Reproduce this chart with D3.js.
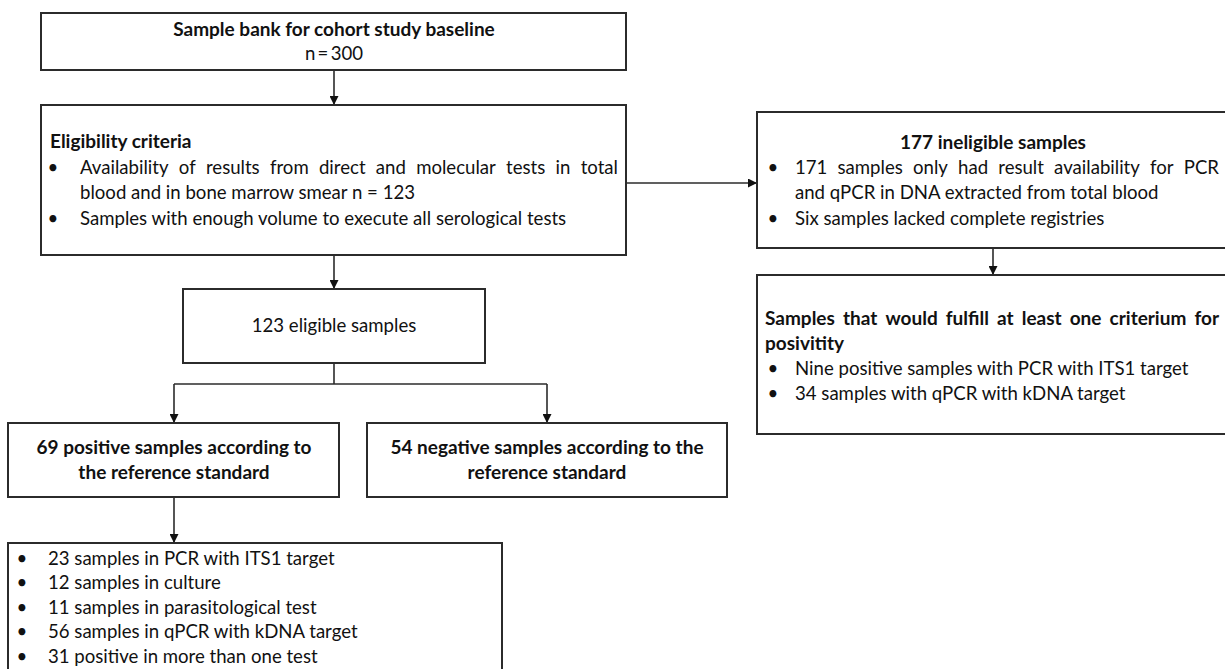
<!DOCTYPE html>
<html><head><meta charset="utf-8">
<script src="https://cdn.jsdelivr.net/npm/d3@7"></script>
<style>
html,body{margin:0;padding:0;background:#fff;overflow:hidden}
svg{display:block}
text{font-family:Lato,"Open Sans",sans-serif;fill:#111;font-size:18.6px}
text.b{font-size:19px;font-weight:700}
</style></head><body>
<svg id="chart" width="1225" height="669"></svg>
<script>
// ---- text content ----
const baselineTitle = "Sample bank for cohort study baseline";
const baselineCount = "n\u2009=\u2009300";
const eligibilityTitle = "Eligibility criteria";
const eligibilityItems = [
  ["Availability of results from direct and molecular tests in total", "blood and in bone marrow smear n = 123"],
  ["Samples with enough volume to execute all serological tests"]
];
const eligibleLabel = "123 eligible samples";
const positiveLabel = ["69 positive samples according to", "the reference standard"];
const negativeLabel = ["54 negative samples according to the", "reference standard"];
const positiveItems = [
  "23 samples in PCR with ITS1 target",
  "12 samples in culture",
  "11 samples in parasitological test",
  "56 samples in qPCR with kDNA target",
  "31 positive in more than one test"
];
const ineligibleTitle = "177 ineligible samples";
const ineligibleItems = [
  ["171 samples only had result availability for PCR", "and qPCR in DNA extracted from total blood"],
  ["Six samples lacked complete registries"]
];
const positivityTitle = ["Samples that would fulfill at least one criterium for", "posivitity"];
const positivityItems = [
  "Nine positive samples with PCR with ITS1 target",
  "34 samples with qPCR with kDNA target"
];

// ---- drawing ----
const svg = d3.select("#chart");
const LINE = 25.8;
const stroke = "#2b2b2b";

svg.append("defs").append("marker")
  .attr("id", "arrow").attr("viewBox", "0 0 10 10")
  .attr("refX", 10).attr("refY", 5)
  .attr("markerWidth", 9).attr("markerHeight", 9)
  .attr("markerUnits", "userSpaceOnUse")
  .attr("orient", "auto")
  .append("path").attr("d", "M0,0 L10,5 L0,10 Z").attr("fill", "#111");

function box(x0, y0, x1, y1) {
  svg.append("rect").attr("x", x0).attr("y", y0)
    .attr("width", x1 - x0).attr("height", y1 - y0)
    .attr("fill", "#fff").attr("stroke", stroke).attr("stroke-width", 2);
}
function line(pts, arrow) {
  const p = svg.append("path")
    .attr("d", d3.line()(pts))
    .attr("fill", "none").attr("stroke", stroke).attr("stroke-width", 1.6);
  if (arrow) p.attr("marker-end", "url(#arrow)");
}
function measure(str, bold) {
  const t = svg.append("text").attr("class", bold ? "b" : null).text(str);
  const w = t.node().getComputedTextLength();
  t.remove();
  return w;
}
function text(str, x, y, o = {}) {
  const t = svg.append("text")
    .attr("y", y).attr("dy", "0.35em")
    .attr("class", o.bold ? "b" : null);
  if (o.justifyTo) {
    const words = str.split(" ");
    const widths = words.map(w => measure(w, o.bold));
    const total = d3.sum(widths);
    const gap = Math.max(3, (o.justifyTo - x - total) / (words.length - 1));
    let cx = x;
    words.forEach((w, i) => {
      t.append("tspan").attr("x", cx).text(w);
      cx += widths[i] + gap;
    });
  } else {
    t.attr("x", x).attr("text-anchor", o.anchor || "start").text(str);
  }
  return t;
}
function bullets(items, xb, xt, y0, right, step) {
  let y = y0;
  items.forEach(item => {
    const lines = Array.isArray(item) ? item : [item];
    text("\u2022", xb, y, {anchor: "middle"});
    lines.forEach((ln, i) => {
      const just = right && i < lines.length - 1;
      text(ln, xt, y, just ? {justifyTo: right} : {});
      y += step || LINE;
    });
  });
}

// connectors
line([[334, 70], [334, 105]], true);
line([[334, 255], [334, 289]], true);
line([[334, 363], [334, 384]]);
line([[174, 384], [547, 384]]);
line([[174, 384], [174, 423]], true);
line([[547, 384], [547, 423]], true);
line([[174, 497], [174, 543]], true);
line([[626, 183], [757, 183]], true);
line([[993, 248], [993, 275]], true);

// box 1
box(41, 13, 626, 70);
text(baselineTitle, 334, 29, {bold: true, anchor: "middle"});
text(baselineCount, 334, 53, {anchor: "middle"});

// box 2
box(41, 105, 626, 255);
text(eligibilityTitle, 50, 141, {bold: true});
bullets(eligibilityItems, 53, 80, 167, 618);

// box 3
box(183, 289, 485, 363);
text(eligibleLabel, 334, 325, {anchor: "middle"});

// positive / negative
box(8, 423, 339, 497);
positiveLabel.forEach((s, i) => text(s, 174, 447 + i * LINE, {bold: true, anchor: "middle"}));
box(367, 423, 727, 497);
negativeLabel.forEach((s, i) => text(s, 547, 447 + i * LINE, {bold: true, anchor: "middle"}));

// positive list
box(8, 543, 502, 700);
bullets(positiveItems, 22, 48, 558, null, 24.6);

// ineligible
box(757, 112, 1228, 248);
text(ineligibleTitle, 993, 142, {bold: true, anchor: "middle"});
bullets(ineligibleItems, 773, 795, 167, 1219);

// positivity
box(757, 275, 1228, 434);
text(positivityTitle[0], 765, 318, {bold: true, justifyTo: 1219});
text(positivityTitle[1], 765, 343, {bold: true});
bullets(positivityItems, 773, 795, 368, null);
</script>
</body></html>
